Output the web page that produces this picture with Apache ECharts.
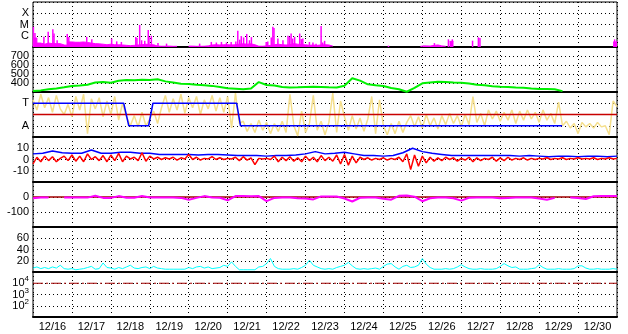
<!DOCTYPE html>
<html>
<head>
<meta charset="utf-8">
<script src="https://cdn.jsdelivr.net/npm/echarts@6/dist/echarts.min.js"></script>
<style>
html, body { margin: 0; padding: 0; background: #fff; }
#chart { width: 628px; height: 334px; }
</style>
</head>
<body>
<div id="chart"></div>
<script>
// x axis is in days since 12/16 00:00
var dayLabels = ['12/16', '12/17', '12/18', '12/19', '12/20', '12/21', '12/22', '12/23',
                 '12/24', '12/25', '12/26', '12/27', '12/28', '12/29', '12/30'];

// x-ray flux, decades above 1e-7 (C = 1, M = 2, X = 3), one value every 0.1 day
var xrayBase = [
    0.8, 0.35, 0.25, 0.35, 0.3, 0.3, 0.3, 0.18, 0.15, 0.45,
    0.42, 0.42, 0.45, 0.4, 0.35, 0.3, 0.28, 0.25, 0.2, 0.25,
    0.2, 0.2, 0.18, 0.15, 0.12, 0.15, 0.18, 0.2, 0.25, 0.2,
    0.2, 0.08, 0.07, 0.07, 0.08, 0.06, 0.06, null, null, null,
    0.08, 0.06, 0.06, 0.07, 0.1, 0.18, 0.2, 0.18, 0.2, 0.2,
    0.18, 0.2, 0.25, 0.28, 0.25, 0.28, 0.2, 0.07, 0.07, 0.1,
    0.14, 0.2, 0.25, 0.2, 0.18, 0.2, 0.3, 0.25, 0.2, 0.2,
    0.15, 0.18, 0.15, 0.18, 0.2, 0.18, 0.08, null, null, null,
    null, null, null, null, null, null, null, null, null, null,
    null, null, null, null, null, null, null, null, null, null,
    0.1, 0.08, 0.14, 0.18, 0.1, 0.06, null, 0.5, null, null,
    null, null, null, null, null, null, null, null, null, null,
    null, null, null, null, null, null, null, null, null, null,
    null, null, null, null, null, null, null, null, null, null,
    null, null, null, null, null, null, null, null, null, 0.45,
    0.55
];
// flare spikes [day, decades]
var xraySpikes = [
    [0.01, 1.8], [0.05, 1.24], [0.28, 0.92], [0.39, 1.36], [0.51, 1.57], [0.54, 1.2], [0.62, 0.6],
    [0.88, 1.16], [0.92, 0.9], [1.38, 0.9], [1.51, 0.7], [2.02, 0.75], [2.15, 0.5], [2.27, 0.45],
    [2.64, 0.88], [2.67, 0.8], [2.74, 1.96], [2.79, 0.6], [2.87, 0.55], [2.96, 1.51], [2.98, 0.9],
    [3.04, 1.0], [3.21, 0.35], [3.43, 0.3], [4.28, 0.3], [4.58, 0.45], [4.71, 0.4], [4.84, 0.45],
    [4.97, 0.4], [5.09, 0.45], [5.21, 0.5], [5.26, 1.45], [5.31, 0.65], [5.35, 0.98], [5.41, 0.85],
    [5.49, 1.16], [5.56, 0.6], [5.61, 0.88], [5.99, 0.45], [6.03, 0.5], [6.12, 0.85], [6.16, 1.8],
    [6.19, 1.7], [6.29, 0.76], [6.42, 0.6], [6.55, 1.0], [6.59, 0.9], [6.63, 1.2], [6.67, 0.75],
    [6.72, 0.9], [6.85, 1.2], [6.89, 0.7], [6.93, 0.75], [7.10, 0.45], [7.19, 0.4], [7.27, 0.3],
    [7.40, 1.87], [7.44, 0.4], [7.49, 0.55], [9.13, 0.12], [9.97, 0.12], [10.31, 0.35],
    [10.67, 0.68], [10.77, 0.68], [11.29, 0.56], [11.44, 0.86], [11.48, 0.8], [14.94, 0.68]
];

// solar wind speed km/s, every 0.2 day
var windSpeed = [
    310, 318, 330, 340, 352, 367, 372, 380, 405, 412,
    403, 425, 433, 430, 436, 433, 442, 418, 405, 392,
    389, 380, 375, 368, 355, 341, 336, 330, 338, 410,
    378, 372, 355, 350, 352, 355, 358, 356, 352, 350,
    370, 452, 426, 385, 375, 367, 345, 330, 303, 345,
    396, 405, 414, 412, 405, 403, 395, 380, 376, 365,
    359, 355, 350, 348, 340, 333, 332, 330, 310
];

// IMF direction (A = 1, T = 3), every 0.1 day
var imfPhi = [
    3.3, 2.4, 3.8, 2.6, 3.5, 2.2, 3.7, 2.5, 2.0, 2.9,
    1.8, 3.6, 2.4, 3.8, 0.3, 3.4, 2.5, 3.5, 1.8, 3.2,
    2.0, 3.6, 1.5, 3.0, 1.8, 1.0, 1.9, 0.9, 2.2, 1.0,
    1.6, 2.3, 1.2, 2.6, 3.7, 2.2, 3.4, 2.4, 3.8, 2.1,
    3.5, 2.6, 3.6, 2.0, 3.3, 2.5, 3.7, 2.3, 3.5, 2.2,
    3.6, 0.8, 3.9, 1.2, 1.4, 0.5, 1.2, 0.4, 1.5, 0.6,
    1.3, 0.3, 1.2, 0.5, 1.4, 0.4, 3.8, 1.0, 0.1, 2.3,
    0.4, 1.2, 3.7, 0.6, 1.4, 0.2, 1.3, 3.9, 0.4, 3.2,
    1.8, 0.6, 1.9, 0.7, 1.7, 0.5, 1.6, 3.6, 0.3, 3.3,
    1.0, 0.2, 1.2, 0.3, 1.4, 0.4, 1.3, 1.9, 0.9, 1.8,
    0.8, 2.0, 1.0, 1.7, 0.7, 1.9, 1.1, 2.1, 1.2, 1.9,
    0.9, 2.0, 1.1, 3.6, 1.3, 2.1, 1.0, 2.4, 1.6, 2.3,
    1.4, 2.2, 1.5, 2.4, 1.2, 2.3, 1.5, 2.4, 1.6, 2.2,
    1.3, 2.4, 1.5, 2.1, 1.2, 3.1, 1.0, 1.4, 0.8, 1.2,
    0.3, 1.3, 0.9, 1.2, 0.8, 1.3, 0.9, 1.0, 0.2, 3.2,
    2.7
];
// sector polarity [day, level]
var sector = [[0, 3], [2.33, 3], [2.46, 1], [2.97, 1], [3.08, 3], [5.23, 3], [5.33, 1], [13.59, 1]];

// Bt every 0.25 day, Bz every 0.1 day (nT)
var bt = [
    5.0, 5.5, 7.5, 6.0, 5.5, 5.5, 8.5, 5.5, 5.5, 6.5,
    6.5, 5.5, 5.5, 4.5, 4.5, 4.5, 4.5, 4.0, 4.5, 4.5,
    4.0, 3.5, 3.5, 3.5, 3.0, 3.5, 3.5, 4.0, 5.0, 7.0,
    5.0, 5.5, 6.5, 5.0, 3.5, 3.5, 3.0, 3.5, 6.0, 10.0,
    7.0, 5.5, 4.5, 3.5, 3.5, 3.5, 3.5, 3.5, 3.5, 3.5,
    3.0, 3.5, 3.0, 2.5, 3.0, 3.0, 2.5, 3.0, 3.0, 2.5,
    3.0
];
var bz = [
    -4, 2, -2, 3, -1, 2.5, -2, 1, 3, -1,
    4, -1.5, 3, -2, 5, 0, 2.5, -1, 3.5, -2,
    4, -1, 5.5, -2, 3, 0.5, 2, -1, 6, -1.5,
    3, 0.5, 2, 0, 1.5, 0.5, 2, -0.5, 1.5, 0.5,
    4.5, 0, 2, -0.5, 1, 0.5, 2.5, 0, 1.5, 0,
    1, 0.5, 2, -1, 2.5, -0.5, 1.5, -4.5, 1, 0.5,
    1, 0, 3, -2, 2, -1, 2.5, -1.5, 1.5, -2,
    3, -1, 2, -2, 3.5, -1, 2, -1.5, 4, -4,
    4.5, -5, 3, -3, 2, 0, 1.5, -0.5, 1, 0,
    1.5, -0.5, 1, 0, 2, -2, 5, -9, 4, -6,
    3, -3, 2, -1.5, 1.5, -1, 2, 0, 1.5, -1.5,
    1, -0.5, 2, -2, 1.5, -1, 1, 0, 2, -1.5,
    1.5, -1, 2, -0.5, 1, 0, 1.5, -0.5, 1, 0,
    1, 0.5, 1.5, 0, 1, 0.5, 1.5, 0, 1, 0.5,
    1.5, 0.5, 1, 0.5, 1.5, 0, 1, 0.5, 1.5, 0.5,
    1
];

// Dst nT, every 0.2 day
var dst = [
    -8, -4, -4, null, -4, -3, -4, -4, 8, -6,
    -6, 6, -5, -5, 6, -4, -4, -3, -4, -6,
    -18, -6, 6, -3, -5, -22, 6, 6, 5, 6,
    -28, -6, -4, -4, -8, -10, -16, 4, 4, 3,
    -10, -30, -5, -4, -4, -12, -18, 8, 10, 2,
    -28, -8, -4, -4, -8, -24, -5, -4, -4, -4,
    -8, -6, -4, -4, -4, -10, -18, -6, null, -4,
    -6, -13, 5, 6, 6, 6
];

// cyan index, every 0.1 day
var cyanIdx = [
    7, 9, 6, 8, 6, 9, 7, 12, 6, 5,
    6, 4, 5, 6, 8, 10, 5, 6, 16, 8,
    7, 5, 8, 6, 9, 12, 7, 6, 8, 9,
    6, 10, 7, 6, 5, 5, 5, 5, 5, 5,
    8, 6, 9, 10, 7, 9, 6, 7, 8, 12,
    10, 18, 10, 4, 4, 4, 4, 4, 9, 10,
    15, 24, 10, 6, 5, 5, 5, 6, 5, 8,
    12, 21, 12, 9, 6, 5, 6, 5, 8, 10,
    12, 17, 11, 6, 5, 6, 5, 6, 7, 5,
    10, 14, 15, 9, 5, 10, 12, 8, 9, 12,
    24, 14, 8, 5, 5, 5, 6, 5, 6, 9,
    13, 9, 6, 5, 5, 6, 5, 5, 5, 6,
    10, 15, 11, 8, 9, 5, 5, 5, 6, 7,
    13, 8, 5, 5, 5, 6, 5, 5, 5, 6,
    11, 11, 7, 5, 5, 6, 5, 5, 5, 6,
    5
];

// proton threshold, log10
var protonLevel = 4;

function byStep(values, step) {
    var out = [];
    for (var i = 0; i < values.length; i++) {
        out.push([Math.round(i * step * 1000) / 1000, values[i]]);
    }
    return out;
}

var dotted = { color: '#000', width: 1, type: [1, 3] };
var font = 'Liberation Sans, Arial, sans-serif';

var panels = [
    { min: 0, max: 4, interval: 1, fmt: function (v) { return { 1: 'C', 2: 'M', 3: 'X' }[v] || ''; } },
    { min: 300, max: 800, interval: 100 },
    { min: 0, max: 4, interval: 1, fmt: function (v) { return { 1: 'A', 3: 'T' }[v] || ''; } },
    { min: -20, max: 20, interval: 10 },
    { min: -200, max: 100, interval: 100 },
    { min: 0, max: 80, interval: 20 },
    { min: 1, max: 5, interval: 1, fmt: function (v) { return '{b|10}{s|' + v + '}'; } }
];

var grids = [], xAxes = [], yAxes = [];
for (var i = 0; i < panels.length; i++) {
    grids.push({
        left: 33, right: 11, top: 2 + 45 * i, height: 45,
        show: true, borderColor: '#000', borderWidth: 1,
        outerBoundsMode: 'none'
    });
    xAxes.push({
        type: 'value', gridIndex: i, min: 0, max: 15, interval: 1,
        axisLabel: { show: false }, axisTick: { show: false },
        axisLine: { show: true, onZero: false, lineStyle: { color: '#000', width: 2 } },
        splitLine: { show: true, lineStyle: dotted }
    });
    var p = panels[i];
    yAxes.push({
        type: 'value', gridIndex: i, min: p.min, max: p.max, interval: p.interval,
        axisLine: { show: false }, axisTick: { show: false },
        axisLabel: {
            color: '#000', fontSize: 11, fontFamily: font, margin: 4,
            showMinLabel: false, showMaxLabel: false,
            formatter: p.fmt,
            rich: {
                b: { fontSize: 11, fontFamily: font, color: '#000' },
                s: { fontSize: 8, fontFamily: font, color: '#000', padding: [0, 0, 8, 0] }
            }
        },
        splitLine: { show: true, lineStyle: dotted }
    });
}
// date labels centred in each day
xAxes.push({
    type: 'category', gridIndex: 6, data: dayLabels, boundaryGap: true, position: 'bottom',
    axisLine: { show: false }, axisTick: { show: false }, splitLine: { show: false },
    axisLabel: { color: '#000', fontSize: 11, fontFamily: font, margin: 4, interval: 0 }
});

function line(xi, data, color, width, extra) {
    var s = {
        type: 'line', xAxisIndex: xi, yAxisIndex: xi, data: data,
        symbol: 'none', silent: true,
        lineStyle: { color: color, width: width }
    };
    for (var k in extra) s[k] = extra[k];
    return s;
}

var chart = echarts.init(document.getElementById('chart'));
chart.setOption({
    animation: false,
    backgroundColor: '#fff',
    textStyle: { fontFamily: font },
    grid: grids,
    xAxis: xAxes,
    yAxis: yAxes,
    series: [
        line(0, byStep(xrayBase, 0.1), '#ff00ff', 1, {
            step: 'end', areaStyle: { color: '#ff00ff', opacity: 1, origin: 'start' }
        }),
        { type: 'bar', xAxisIndex: 0, yAxisIndex: 0, data: xraySpikes, barWidth: 1.5,
          itemStyle: { color: '#ff00ff' }, silent: true },
        line(1, byStep(windSpeed, 0.2), '#00f000', 2),
        line(2, byStep(imfPhi, 0.1), '#f5df8c', 1.5),
        line(2, [[0, 2], [15, 2]], '#c80000', 1.5),
        line(2, sector, '#0000ff', 1.5),
        line(3, byStep(bt, 0.25), '#0000ff', 1.5),
        line(3, byStep(bz, 0.1), '#ff0000', 1.5),
        line(4, [[0, 0], [15, 0]], '#a00000', 1.5),
        line(4, byStep(dst, 0.2), '#ff00ff', 2),
        line(5, byStep(cyanIdx, 0.1), '#00ffff', 1),
        line(6, [[0, protonLevel], [15, protonLevel]], '#a00000', 1, {
            lineStyle: { color: '#a00000', width: 1, type: [10, 3, 2, 3] }
        })
    ]
});
</script>
</body>
</html>
